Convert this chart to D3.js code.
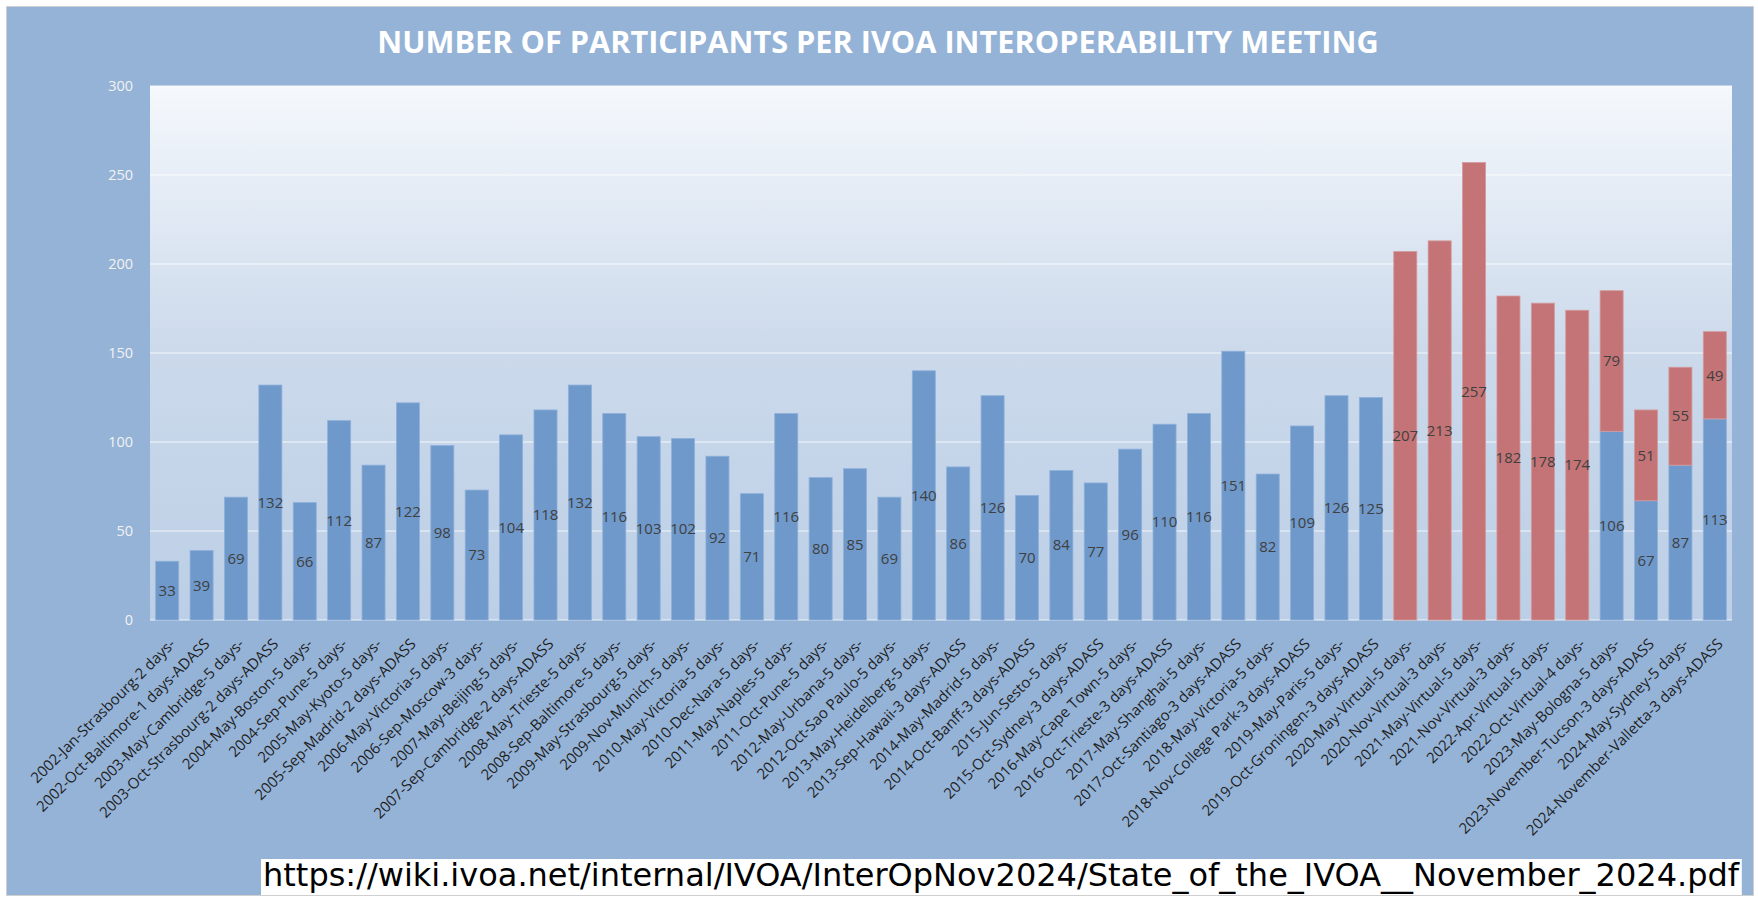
<!DOCTYPE html>
<html>
<head>
<meta charset="utf-8">
<script src="https://cdn.jsdelivr.net/npm/d3@7"></script>
<style>
  body { margin: 0; background: #ffffff; }
  svg { display: block; }
</style>
</head>
<body>
<div id="main"></div>
<script>
const meetings = [
  "2002-Jan-Strasbourg-2 days-", "2002-Oct-Baltimore-1 days-ADASS", "2003-May-Cambridge-5 days-",
  "2003-Oct-Strasbourg-2 days-ADASS", "2004-May-Boston-5 days-", "2004-Sep-Pune-5 days-",
  "2005-May-Kyoto-5 days-", "2005-Sep-Madrid-2 days-ADASS", "2006-May-Victoria-5 days-",
  "2006-Sep-Moscow-3 days-", "2007-May-Beijing-5 days-", "2007-Sep-Cambridge-2 days-ADASS",
  "2008-May-Trieste-5 days-", "2008-Sep-Baltimore-5 days-", "2009-May-Strasbourg-5 days-",
  "2009-Nov-Munich-5 days-", "2010-May-Victoria-5 days-", "2010-Dec-Nara-5 days-",
  "2011-May-Naples-5 days-", "2011-Oct-Pune-5 days-", "2012-May-Urbana-5 days-",
  "2012-Oct-Sao Paulo-5 days-", "2013-May-Heidelberg-5 days-", "2013-Sep-Hawaii-3 days-ADASS",
  "2014-May-Madrid-5 days-", "2014-Oct-Banff-3 days-ADASS", "2015-Jun-Sesto-5 days-",
  "2015-Oct-Sydney-3 days-ADASS", "2016-May-Cape Town-5 days-", "2016-Oct-Trieste-3 days-ADASS",
  "2017-May-Shanghai-5 days-", "2017-Oct-Santiago-3 days-ADASS", "2018-May-Victoria-5 days-",
  "2018-Nov-College Park-3 days-ADASS", "2019-May-Paris-5 days-", "2019-Oct-Groningen-3 days-ADASS",
  "2020-May-Virtual-5 days-", "2020-Nov-Virtual-3 days-", "2021-May-Virtual-5 days-",
  "2021-Nov-Virtual-3 days-", "2022-Apr-Virtual-5 days-", "2022-Oct-Virtual-4 days-",
  "2023-May-Bologna-5 days-", "2023-November-Tucson-3 days-ADASS", "2024-May-Sydney-5 days-",
  "2024-November-Valletta-3 days-ADASS"
];

const inPerson = [
  33, 39, 69, 132, 66, 112, 87, 122, 98, 73, 104, 118, 132, 116, 103, 102, 92, 71, 116, 80, 85, 69, 140,
  86, 126, 70, 84, 77, 96, 110, 116, 151, 82, 109, 126, 125, 0, 0, 0, 0, 0, 0, 106, 67, 87, 113
];

const remote = [
  0, 0, 0, 0, 0, 0, 0, 0, 0, 0, 0, 0, 0, 0, 0, 0, 0, 0, 0, 0, 0, 0, 0,
  0, 0, 0, 0, 0, 0, 0, 0, 0, 0, 0, 0, 0, 207, 213, 257, 182, 178, 174, 79, 51, 55, 49
];

const yTicks = [0, 50, 100, 150, 200, 250, 300];

const titleText = "NUMBER OF PARTICIPANTS PER IVOA INTEROPERABILITY MEETING";
const sourceText = "https://wiki.ivoa.net/internal/IVOA/InterOpNov2024/State_of_the_IVOA__November_2024.pdf";

const width = 1758;
const height = 900;
const plot = { left: 150, right: 1732, top: 86, bottom: 620 };

const blue = "#6f99cb";
const red = "#c47476";

const svg = d3.select("#main")
  .append("svg")
  .attr("width", width)
  .attr("height", height);

const defs = svg.append("defs");
const grad = defs.append("linearGradient")
  .attr("id", "plotFill")
  .attr("x1", 0).attr("y1", 0)
  .attr("x2", 0).attr("y2", 1);
grad.append("stop").attr("offset", "0%").attr("stop-color", "#f5f8fc");
grad.append("stop").attr("offset", "50%").attr("stop-color", "#cbd9eb");
grad.append("stop").attr("offset", "100%").attr("stop-color", "#bccfe6");

svg.append("rect")
  .attr("x", 6.5)
  .attr("y", 6.5)
  .attr("width", 1747)
  .attr("height", 889)
  .attr("fill", "#95b3d7")
  .attr("stroke", "#cfcfcf");

svg.append("rect")
  .attr("x", plot.left)
  .attr("y", plot.top)
  .attr("width", plot.right - plot.left)
  .attr("height", plot.bottom - plot.top)
  .attr("fill", "url(#plotFill)");

const xScale = d3.scaleBand()
  .domain(meetings)
  .range([plot.left, plot.right])
  .paddingInner(0.33)
  .paddingOuter(0.165);

const yScale = d3.scaleLinear()
  .domain([0, 300])
  .range([plot.bottom, plot.top]);

const yAxis = d3.axisLeft(yScale)
  .tickValues(yTicks)
  .tickSize(0)
  .tickPadding(17);

const yG = svg.append("g")
  .attr("transform", "translate(" + plot.left + ",0)")
  .call(yAxis);
yG.select(".domain").remove();
yG.selectAll("text")
  .attr("fill", "#f2f2f2")
  .style("font-family", "'Open Sans', sans-serif")
  .style("font-size", "14.5px");

svg.append("g")
  .selectAll("line")
  .data(yTicks)
  .enter()
  .append("line")
  .attr("x1", plot.left)
  .attr("x2", plot.right)
  .attr("y1", d => yScale(d))
  .attr("y2", d => yScale(d))
  .attr("stroke", "#ffffff")
  .attr("stroke-opacity", 0.55)
  .attr("stroke-width", 1.5);

const rows = meetings.map((m, i) => ({ name: m, a: inPerson[i], b: remote[i] }));

svg.append("g")
  .selectAll("rect")
  .data(rows.filter(d => d.a > 0))
  .enter()
  .append("rect")
  .attr("x", d => xScale(d.name))
  .attr("y", d => yScale(d.a))
  .attr("width", xScale.bandwidth())
  .attr("height", d => yScale(0) - yScale(d.a))
  .attr("fill", blue)
  .attr("stroke", "#8eb0da")
  .attr("stroke-width", 0.8);

svg.append("g")
  .selectAll("rect")
  .data(rows.filter(d => d.b > 0))
  .enter()
  .append("rect")
  .attr("x", d => xScale(d.name))
  .attr("y", d => yScale(d.a + d.b))
  .attr("width", xScale.bandwidth())
  .attr("height", d => yScale(d.a) - yScale(d.a + d.b))
  .attr("fill", red)
  .attr("stroke", "#d49a9b")
  .attr("stroke-width", 0.8);

const labelStyle = sel => sel
  .attr("text-anchor", "middle")
  .attr("dy", "0.35em")
  .attr("fill", "#404040")
  .style("font-family", "'Open Sans', sans-serif")
  .style("font-size", "15px");

svg.append("g")
  .selectAll("text")
  .data(rows.filter(d => d.a > 0))
  .enter()
  .append("text")
  .attr("x", d => xScale(d.name) + xScale.bandwidth() / 2)
  .attr("y", d => yScale(d.a / 2))
  .call(labelStyle)
  .text(d => d.a);

svg.append("g")
  .selectAll("text")
  .data(rows.filter(d => d.b > 0))
  .enter()
  .append("text")
  .attr("x", d => xScale(d.name) + xScale.bandwidth() / 2)
  .attr("y", d => yScale(d.a + d.b / 2))
  .call(labelStyle)
  .text(d => d.b);

svg.append("g")
  .selectAll("text")
  .data(meetings)
  .enter()
  .append("text")
  .attr("transform", d => "translate(" + (xScale(d) + xScale.bandwidth() / 2 + 9) + "," + (plot.bottom + 25) + ") rotate(-45)")
  .attr("text-anchor", "end")
  .attr("fill", "#1f1f1f")
  .style("font-family", "'Open Sans', sans-serif")
  .style("font-size", "15px")
  .text(d => d);

svg.append("text")
  .attr("x", 878)
  .attr("y", 53)
  .attr("text-anchor", "middle")
  .attr("fill", "#ffffff")
  .style("font-family", "'Open Sans', sans-serif")
  .style("font-weight", "bold")
  .style("font-size", "30.7px")
  .text(titleText);

const source = svg.append("g");
const sourceBox = source.append("rect").attr("fill", "#ffffff");
const sourceLabel = source.append("text")
  .attr("x", 263)
  .attr("y", 886)
  .attr("fill", "#000000")
  .style("font-family", "'DejaVu Sans', sans-serif")
  .style("font-size", "32px")
  .text(sourceText);

const bb = sourceLabel.node().getBBox();
sourceBox
  .attr("x", bb.x - 2)
  .attr("y", 859)
  .attr("width", bb.width + 4)
  .attr("height", 36);
</script>
</body>
</html>
